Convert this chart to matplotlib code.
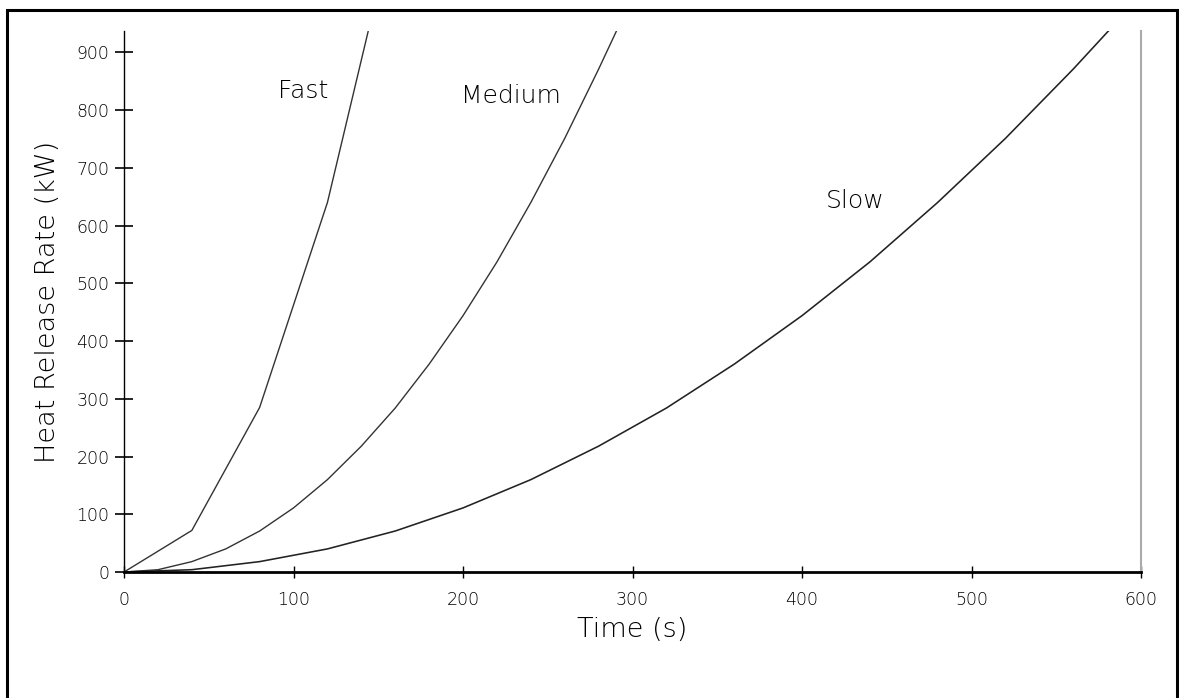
import matplotlib
matplotlib.use("Agg")
import matplotlib.pyplot as plt
from matplotlib.patches import Rectangle

# values
fast_t = [0, 40, 80, 120, 144]
fast_q = [0, 72, 285, 640, 936]

medium_t = [0, 20, 40, 60, 80, 100, 120, 140, 160, 180, 200, 220, 240, 260, 280, 291]
medium_q = [0, 4, 18, 40, 71, 111, 160, 218, 284, 360, 444, 537, 640, 751, 871, 940]

slow_t = [0, 40, 80, 120, 160, 200, 240, 280, 320, 360, 400, 440, 480, 520, 560, 582]
slow_q = [0, 4, 18, 40, 71, 111, 160, 218, 284, 360, 444, 537, 640, 751, 871, 941]

x_ticks = [0, 100, 200, 300, 400, 500, 600]
y_ticks = [0, 100, 200, 300, 400, 500, 600, 700, 800, 900]

plt.rcParams["font.weight"] = "light"
plt.rcParams["axes.labelweight"] = "light"

fig = plt.figure(figsize=(11.79, 6.98), dpi=100)
ax = fig.add_axes([0.1052, 0.1805, 0.8626, 0.7751])

ax.plot(fast_t, fast_q, color="#333333", lw=1.0)
ax.plot(medium_t, medium_q, color="#333333", lw=1.0)
ax.plot(slow_t, slow_q, color="#222222", lw=1.15)

ax.text(91, 821, "Fast", fontsize=18, ha="left", va="baseline", color="black")
ax.text(199, 813, "Medium", fontsize=18, ha="left", va="baseline", color="black")
ax.text(414, 631, "Slow", fontsize=18, ha="left", va="baseline", color="black")

ax.set_xlim(0, 600)
ax.set_ylim(0, 937)
ax.set_xticks(x_ticks)
ax.set_yticks(y_ticks)

ax.spines["top"].set_visible(False)
ax.spines["left"].set_linewidth(1.0)
ax.spines["bottom"].set_linewidth(2.0)
ax.spines["right"].set_color("#aaaaaa")
ax.spines["right"].set_linewidth(1.5)

ax.tick_params(axis="y", direction="inout", length=13, width=1.2, pad=4,
               labelsize=12.5, labelcolor="black")
ax.tick_params(axis="x", direction="inout", length=9, width=1.0, pad=9,
               labelsize=12.5, labelcolor="black")

ax.set_xlabel("Time (s)", fontsize=19.5, color="black", labelpad=6)
ax.set_ylabel("Heat Release Rate (kW)", fontsize=19.5, color="black", labelpad=12)

# frame round the whole page, cut off at the bottom edge
fig.patches.append(Rectangle((7 / 1179, -0.02), 1170 / 1179, 1.02 - 10 / 698,
                             transform=fig.transFigure, fill=False,
                             edgecolor="black", lw=2.2))

fig.savefig("out.png", dpi=100)
